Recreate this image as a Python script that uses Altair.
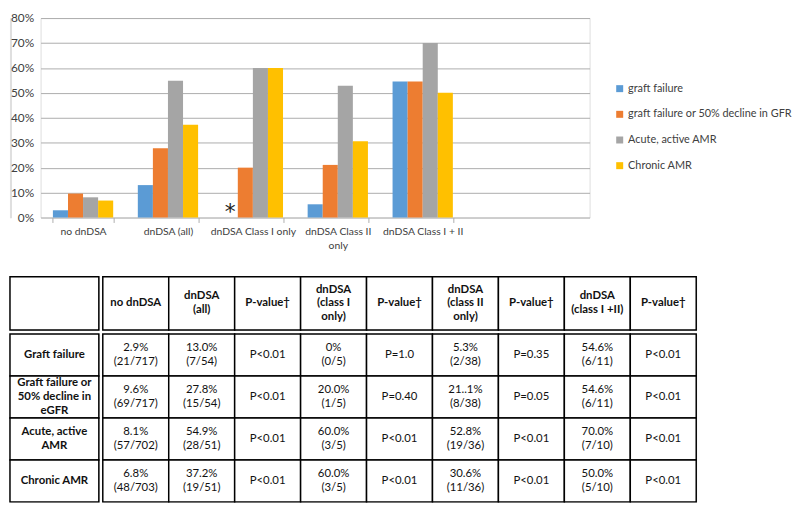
import altair as alt
import pandas as pd

# ---------------- data ----------------
categories = ["no dnDSA", "dnDSA (all)", "dnDSA Class I only",
              "dnDSA Class II only", "dnDSA Class I + II"]
series = ["graft failure", "graft failure or 50% decline in GFR",
          "Acute, active AMR", "Chronic AMR"]
graft_failure = [2.9, 13.0, 0.0, 5.3, 54.6]
graft_failure_or_gfr = [9.6, 27.8, 20.0, 21.1, 54.6]
acute_amr = [8.1, 54.9, 60.0, 52.8, 70.0]
chronic_amr = [6.8, 37.2, 60.0, 30.6, 50.0]
colors = ["#5B9BD5", "#ED7D31", "#A5A5A5", "#FFC000"]
y_ticks = [0, 0.1, 0.2, 0.3, 0.4, 0.5, 0.6, 0.7, 0.8]
asterisk_category = "dnDSA Class I only"
asterisk_series = "graft failure"
asterisk_text = "*"

table_header = ["", "no dnDSA", "dnDSA\n(all)", "P-value\u2020", "dnDSA\n(class I\nonly)",
                "P-value\u2020", "dnDSA\n(class II\nonly)", "P-value\u2020",
                "dnDSA\n(class I +II)", "P-value\u2020"]
table_row_labels = ["Graft failure", "Graft failure or\n50% decline in\neGFR",
                    "Acute, active\nAMR", "Chronic AMR"]
row_graft_failure = ["2.9%\n(21/717)", "13.0%\n(7/54)", "P<0.01", "0%\n(0/5)", "P=1.0",
                     "5.3%\n(2/38)", "P=0.35", "54.6%\n(6/11)", "P<0.01"]
row_graft_failure_gfr = ["9.6%\n(69/717)", "27.8%\n(15/54)", "P<0.01", "20.0%\n(1/5)", "P=0.40",
                         "21..1%\n(8/38)", "P=0.05", "54.6%\n(6/11)", "P<0.01"]
row_acute_amr = ["8.1%\n(57/702)", "54.9%\n(28/51)", "P<0.01", "60.0%\n(3/5)", "P<0.01",
                 "52.8%\n(19/36)", "P<0.01", "70.0%\n(7/10)", "P<0.01"]
row_chronic_amr = ["6.8%\n(48/703)", "37.2%\n(19/51)", "P<0.01", "60.0%\n(3/5)", "P<0.01",
                   "30.6%\n(11/36)", "P<0.01", "50.0%\n(5/10)", "P<0.01"]

# ---------------- bar chart ----------------
FONT = "Lato"
GRID = "#ADADAD"
TXT = "#404040"

recs = []
for s, vals in zip(series, [graft_failure, graft_failure_or_gfr, acute_amr, chronic_amr]):
    for c, v in zip(categories, vals):
        recs.append({"category": c, "series": s, "value": v / 100.0})
bars_df = pd.DataFrame(recs)
star_df = pd.DataFrame([{"category": asterisk_category, "series": asterisk_series,
                         "value": 0.0, "label": asterisk_text}])

W, H = 556, 202
n = len(categories)
pin = 0.29
step = 86.0
pout = (W / step - n + pin) / 2
align = (step * pin / 2) / (W - step * (n - pin))

x_enc = alt.X("category:N", sort=categories, title=None,
              scale=alt.Scale(domain=categories, paddingInner=pin, paddingOuter=pout, align=align),
              axis=alt.Axis(labelAngle=0, domain=False, ticks=True, tickBand="extent",
                            tickSize=5, tickColor=GRID, tickWidth=1, labelPadding=4,
                            labelFontSize=10.5, labelColor=TXT, labelOverlap=False,
                            labelFont=FONT, labelLineHeight=14,
                            labelExpr="datum.label == 'dnDSA Class II only' ? ['dnDSA Class II', 'only'] : datum.label"))
xo_enc = alt.XOffset("series:N", sort=series,
                     scale=alt.Scale(domain=series, paddingInner=0, paddingOuter=0))
y_scale = alt.Scale(domain=[0, 0.8], nice=False)
y_enc = alt.Y("value:Q", title=None, scale=y_scale,
              axis=alt.Axis(values=y_ticks, domain=False, ticks=False, labels=False,
                            grid=True, gridColor=GRID, gridWidth=1))

bars = alt.Chart(bars_df).mark_bar().encode(
    x=x_enc, xOffset=xo_enc, y=y_enc,
    color=alt.Color("series:N", sort=series,
                    scale=alt.Scale(domain=series, range=colors),
                    legend=alt.Legend(title=None, orient="none", legendX=612, legendY=66,
                                      symbolType="square", symbolSize=50, symbolStrokeWidth=0,
                                      labelFontSize=11, labelFont=FONT, labelColor=TXT,
                                      rowPadding=14, labelLimit=0, padding=0, labelOffset=3)),
)
star = alt.Chart(star_df).mark_text(fontSize=22, baseline="alphabetic", color="#222222",
                                    font="DejaVu Sans", dy=2).encode(
    x=x_enc, xOffset=xo_enc, y=y_enc, text="label:N")

plot = alt.layer(bars, star).properties(width=W, height=H)

# y-axis labels drawn in their own narrow panel (axis labels only)
y_axis_panel = alt.Chart(pd.DataFrame({"tick": y_ticks})).mark_rule(opacity=0).encode(
    y=alt.Y("tick:Q", title=None, scale=y_scale,
            axis=alt.Axis(orient="right", values=y_ticks, format=".0%", labelAlign="right",
                          labelPadding=23, ticks=False, domain=False, grid=False,
                          labelFontSize=12, labelColor=TXT, labelFont=FONT,
                          labelOverlap=False))
).properties(width=1, height=H)

top = alt.hconcat(y_axis_panel, plot, spacing=5)

# ---------------- table ----------------
body_rows = [row_graft_failure, row_graft_failure_gfr, row_acute_amr, row_chronic_amr]
lab_texts = [table_header[0]] + table_row_labels
lab_df = pd.DataFrame({"row": list(range(5)), "text": lab_texts,
                       "nlines": [len(t.split("\n")) for t in lab_texts]})
cells = []
for r in range(5):
    for c in range(1, 10):
        txt = table_header[c] if r == 0 else body_rows[r - 1][c - 1]
        cells.append({"row": r, "col": c, "text": txt, "head": r == 0,
                      "nlines": len(txt.split("\n"))})
cell_df = pd.DataFrame(cells)

LH = 14
FS = 11.5


def text_layers(base, bold):
    out = []
    for k in (1, 2, 3):
        out.append(base.transform_filter(f"datum.nlines == {k}").mark_text(
            lineBreak="\n", fontWeight="bold" if bold else "normal", fontSize=FS,
            lineHeight=LH, baseline="middle", dy=-(k - 1) * LH / 2,
            font=FONT, color="#111111").encode(text="text:N"))
    return out


def table_part(rows, height, header):
    row_scale = alt.Scale(domain=rows, paddingInner=0, paddingOuter=0)
    lab_base = alt.Chart(lab_df[lab_df["row"].isin(rows)]).encode(
        y=alt.Y("row:O", axis=None, scale=row_scale))
    lab = alt.layer(
        lab_base.mark_rect(fill="white", stroke="black", strokeWidth=1.5),
        *text_layers(lab_base, True),
    ).properties(width=90, height=height)
    cell_base = alt.Chart(cell_df[cell_df["row"].isin(rows)]).encode(
        x=alt.X("col:O", axis=None, scale=alt.Scale(paddingInner=0, paddingOuter=0)),
        y=alt.Y("row:O", axis=None, scale=row_scale))
    cell_chart = alt.layer(
        cell_base.mark_rect(fill="white", stroke="black", strokeWidth=1.5),
        *text_layers(cell_base, header),
    ).properties(width=601, height=height)
    return alt.hconcat(lab, cell_chart, spacing=0)


table = alt.vconcat(table_part([0], 54, True), table_part([1, 2, 3, 4], 170, False),
                    spacing=0)

chart = alt.vconcat(top, table, spacing=24).configure_view(
    stroke=None).configure(font=FONT, padding=0)

chart.save("out.html", embed_options={"renderer": "svg", "actions": False})
